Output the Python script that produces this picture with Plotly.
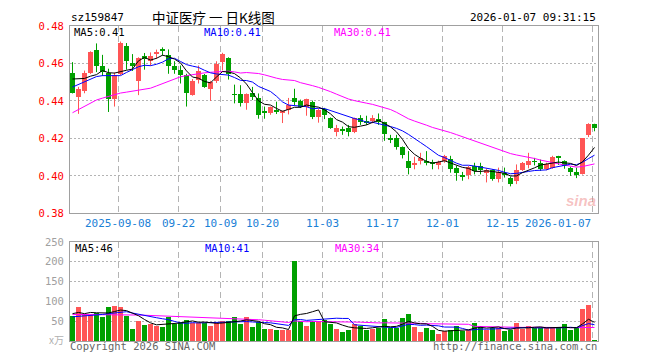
import numpy as np
import plotly.graph_objects as go

# ---------------- data ----------------
opens = [.4549, .4419, .4454, .4549, .4672, .4586, .4549, .4408, .4544, .4695,
         .4600, .4507, .4638, .4611, .4651, .4677, .4647, .4589, .4563, .4537,
         .4432, .4511, .4540, .4466, .4507, .4607, .4628, .4436, .4435, .4387,
         .4444, .4417, .4344, .4335, .4349, .4337, .4351, .4417, .4398, .4368,
         .4395, .4312, .4356, .4311, .4233, .4247, .4254, .4233, .4311, .4291,
         .4295, .4303, .4286, .4200, .4204, .4154, .4079, .4056, .4082, .4082,
         .4074, .4056, .4079, .4091, .4044, .4002, .4003, .4053, .4053, .4014,
         .4032, .3981, .4017, .3991, .3970, .4032, .4058, .4077, .4070, .4035,
         .4044, .4102, .4079, .4044, .4021, .4012, .4219, .4275]
highs = [.4607, .4475, .4562, .4665, .4707, .4646, .4572, .4552, .4717, .4709,
         .4650, .4633, .4656, .4659, .4674, .4686, .4675, .4612, .4589, .4545,
         .4517, .4589, .4544, .4507, .4612, .4657, .4633, .4487, .4484, .4440,
         .4475, .4440, .4370, .4370, .4396, .4349, .4416, .4465, .4407, .4412,
         .4402, .4359, .4363, .4312, .4272, .4263, .4272, .4311, .4324, .4321,
         .4324, .4333, .4289, .4219, .4219, .4157, .4132, .4102, .4123, .4132,
         .4086, .4081, .4112, .4107, .4054, .4021, .4053, .4070, .4070, .4038,
         .4035, .4044, .4044, .3996, .4061, .4074, .4123, .4096, .4087, .4070,
         .4107, .4107, .4083, .4049, .4044, .4202, .4281, .4278]
lows = [.4440, .4331, .4441, .4544, .4554, .4533, .4341, .4370, .4538, .4567,
        .4560, .4431, .4567, .4588, .4624, .4642, .4545, .4545, .4493, .4370,
        .4428, .4493, .4470, .4400, .4496, .4563, .4514, .4387, .4370, .4353,
        .4405, .4305, .4305, .4326, .4330, .4282, .4328, .4377, .4362, .4321,
        .4303, .4284, .4303, .4251, .4211, .4219, .4211, .4228, .4272, .4272,
        .4281, .4272, .4187, .4175, .4140, .4093, .4008, .4035, .4061, .4056,
        .4035, .4035, .4070, .4017, .3974, .3974, .3982, .4008, .4008, .3965,
        .3974, .3965, .3991, .3944, .3956, .4026, .4040, .4056, .4026, .4030,
        .4038, .4058, .4038, .4000, .3988, .4007, .4207, .4238]
closes = [.4444, .4466, .4549, .4659, .4584, .4554, .4408, .4538, .4707, .4612,
          .4585, .4628, .4628, .4638, .4659, .4668, .4589, .4563, .4537, .4444,
          .4505, .4558, .4475, .4502, .4598, .4651, .4545, .4433, .4387, .4435,
          .4423, .4326, .4340, .4366, .4345, .4347, .4377, .4395, .4365, .4408,
          .4312, .4354, .4324, .4258, .4254, .4244, .4233, .4307, .4289, .4287,
          .4311, .4289, .4224, .4196, .4154, .4111, .4044, .4070, .4093, .4070,
          .4061, .4074, .4105, .4035, .4014, .3999, .4047, .4026, .4032, .4030,
          .3982, .4021, .4005, .3959, .4032, .4070, .4079, .4074, .4035, .4061,
          .4102, .4096, .4053, .4021, .4003, .4202, .4275, .4257]
volumes = [64, 85, 69, 67, 71, 61, 85, 88, 85, 64,
           30, 52, 40, 43, 39, 35, 62, 44, 47, 54,
           46, 46, 46, 39, 46, 50, 52, 61, 43, 61,
           36, 47, 31, 31, 28, 28, 27, 203, 50, 39,
           50, 50, 54, 43, 31, 22, 27, 43, 39, 27,
           31, 33, 55, 33, 33, 58, 69, 35, 22, 32,
           27, 18, 25, 27, 37, 25, 27, 45, 39, 27,
           33, 33, 25, 29, 45, 30, 37, 33, 33, 33,
           33, 33, 42, 27, 33, 80, 92, 4]

# moving-average values at the start of the window (earlier days not shown)
ma5_head = [.4517, .4517, .4520, .4532]
ma10_head = [.4474, .4488, .4500, .4515, .4530, .4535, .4535, .4534, .4535]
ma30_head = [.4337, .4355, .4372, .4390, .4405, .4415, .4425, .4435, .4442, .4447,
             .4452, .4457, .4463, .4468, .4480, .4492, .4505, .4518, .4529, .4535,
             .4541, .4547, .4550, .4553, .4556, .4558, .4559, .4555, .4549]
vma5_head = [69, 72, 69, 72]
vma10_head = [61, 62, 63, 64, 65, 67, 69, 71, 73]
vma30_head = [67, 67, 67, 67, 67, 67, 67, 67, 67, 66.5, 66, 65.5, 65, 64.5, 64,
              63.5, 63, 62.5, 62, 61.5, 61, 60.5, 60, 59.5, 59, 58.5, 58, 57.5, 57]

tick_idx = [8, 18, 25, 32, 42, 52, 62, 72, 87]
tick_labels = ["2025-09-08", "09-22", "10-09", "10-20", "11-03", "11-17",
               "12-01", "12-15", "2026-01-07"]
price_ticks = [0.38, 0.40, 0.42, 0.44, 0.46, 0.48]
vol_ticks = [50, 100, 150, 200, 250]

# ---------------- helpers ----------------
RED = "#ff5555"
GREEN = "#00a000"
MONO = "DejaVu Sans Mono"


def moving(vals, n, head):
    out = list(head)
    for i in range(len(head), len(vals)):
        out.append(float(np.mean(vals[i - n + 1:i + 1])))
    return out


n = len(closes)
x = np.arange(n)
o = np.array(opens); c = np.array(closes); h = np.array(highs); l = np.array(lows)
up = c >= o
colors = [RED if u else GREEN for u in up]

ma5 = moving(closes, 5, ma5_head)
ma10 = moving(closes, 10, ma10_head)
ma30 = moving(closes, 30, ma30_head)
vma5 = moving(volumes, 5, vma5_head)
vma10 = moving(volumes, 10, vma10_head)
vma30 = moving(volumes, 30, vma30_head)

fig = go.Figure()

# wicks
for flag, col in ((True, RED), (False, GREEN)):
    wx, wy = [], []
    for i in range(n):
        if up[i] == flag:
            wx += [i, i, None]
            wy += [l[i], h[i], None]
    fig.add_trace(go.Scatter(x=wx, y=wy, mode="lines", line=dict(color=col, width=1),
                             hoverinfo="skip", xaxis="x", yaxis="y"))

# bodies
body = np.maximum(np.abs(c - o), 0.0003)
fig.add_trace(go.Bar(x=x, y=body, base=np.minimum(o, c), width=0.83,
                     marker=dict(color=colors, line=dict(width=0)),
                     xaxis="x", yaxis="y"))

# price MAs
for vals, col in ((ma30, "#ff00ff"), (ma10, "#0000ff"), (ma5, "#000000")):
    fig.add_trace(go.Scatter(x=x, y=vals, mode="lines", line=dict(color=col, width=1),
                             xaxis="x", yaxis="y"))

# volume
fig.add_trace(go.Bar(x=x, y=volumes, width=0.83,
                     marker=dict(color=colors, line=dict(width=0)),
                     xaxis="x2", yaxis="y2"))
for vals, col in ((vma30, "#ff00ff"), (vma10, "#0000ff"), (vma5, "#000000")):
    fig.add_trace(go.Scatter(x=x, y=vals, mode="lines", line=dict(color=col, width=1),
                             xaxis="x2", yaxis="y2"))

# ---------------- layout ----------------
# the page body has an 8px margin, so the figure is drawn at (8, 8)
OFF = 8
W, H = 660 - OFF, 360 - OFF
ML, MR, MT, MB = 70 - OFF, 62, 21 - OFF, 19
PH = H - MT - MB
PW = W - ML - MR


def py(ypx):
    # ypx: pixel row in the window
    return (H - MB - (ypx - OFF)) / PH


def px(xpx):
    return (xpx - OFF - ML) / PW


xr = [-0.4167, n - 0.4167]
grid_x = [i - 0.37 for i in tick_idx]
axis_common = dict(range=xr, tickvals=grid_x, showticklabels=False, ticks="",
                   showgrid=True, gridcolor="#b4b4b4", griddash="6px,4px", gridwidth=1,
                   zeroline=False, showline=True, mirror=True, linecolor="#a0a0a0",
                   linewidth=1, fixedrange=True)

fig.update_layout(
    width=W, height=H, margin=dict(l=ML, r=MR, t=MT, b=MB, pad=0),
    paper_bgcolor="white", plot_bgcolor="white", showlegend=False,
    barmode="overlay", bargap=0,
    xaxis=dict(domain=[0, 1], anchor="y", **axis_common),
    xaxis2=dict(domain=[0, 1], anchor="y2", matches="x", **axis_common),
    yaxis=dict(domain=[py(211.3), 1], range=[0.38, 0.48], tickvals=price_ticks,
               ticktext=[f"{v:.2f}" for v in price_ticks],
               tickfont=dict(family=MONO, size=10.5, color="#ff0000"), ticks="",
               ticklabelstandoff=3,
               showgrid=True, gridcolor="#b4b4b4", griddash="2px,2px",
               zeroline=False, showline=True, mirror=True, linecolor="#a0a0a0"),
    yaxis2=dict(domain=[0, py(240.3)], range=[0, 250], tickvals=vol_ticks,
                tickfont=dict(family=MONO, size=10.5, color="#a0a0a0"), ticks="",
                ticklabelstandoff=3,
                showgrid=True, gridcolor="#b4b4b4", griddash="2px,2px",
                zeroline=False, showline=True, mirror=True, linecolor="#a0a0a0"),
)

ann = []


def text(t, xp, yp, color="#000", size=11, anchor="left", family=MONO, xref="paper",
         pad=1):
    ann.append(dict(text=t, x=xp, y=py(yp), xref=xref, yref="paper", showarrow=False,
                    xanchor=anchor, yanchor="middle", borderpad=pad,
                    font=dict(family=family, size=size, color=color)))


# header
text("sz159847", px(69), 12.5, size=11)
text("中证医疗 一 日K线图", px(213), 11.5, size=13.5, anchor="center",
     family="Noto Sans CJK SC", pad=0)
text("2026-01-07 09:31:15", px(598), 12.5, size=11, anchor="right")
# MA legends
text("MA5:0.41", px(73), 27, color="#000000", size=10.5, pad=0)
text("MA10:0.41", px(203), 27, color="#0000ff", size=10.5, pad=0)
text("MA30:0.41", px(333), 27, color="#ff00ff", size=10.5, pad=0)
text("MA5:46", px(73), 247, color="#000000", size=10.5)
text("MA10:41", px(203), 247, color="#0000ff", size=10.5)
text("MA30:34", px(333), 247, color="#ff00ff", size=10.5)
# x labels
for gx, lab in zip(grid_x, tick_labels):
    anchor = "right" if lab == tick_labels[-1] else "center"
    xx = gx + 0.05 if anchor == "right" else gx
    text(lab, xx, 222, color="#1a80d6", size=11, anchor=anchor, xref="x")
# footer
text("x万", px(66), 339, color="#b0b0b0", size=10, anchor="right",
     family="Noto Sans CJK SC")
text("Copyright 2026 SINA.COM", px(68), 346, color="#666666", size=10.5)
text("http://finance.sina.com.cn", px(599), 346, color="#666666", size=10.5, anchor="right")
# watermark
text("<b><i>sina</i></b>", px(581), 198, color="rgba(235,120,120,0.45)", size=15,
     anchor="center", family="Liberation Sans")

fig.update_layout(annotations=ann)

fig.write_html("out.html")
